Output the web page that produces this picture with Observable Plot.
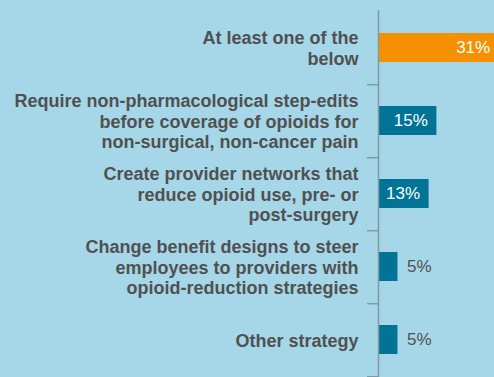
<!DOCTYPE html>
<html>
<head>
<meta charset="utf-8">
<script src="https://cdn.jsdelivr.net/npm/d3@7"></script>
<script src="https://cdn.jsdelivr.net/npm/@observablehq/plot@0.6"></script>
<style>
  html, body { margin: 0; padding: 0; background: #a6d7e8; overflow: hidden; }
</style>
</head>
<body>
<div id="chart"></div>
<script>
const categories = [
  "At least one of the\nbelow",
  "Require non-pharmacological step-edits\nbefore coverage of opioids for\nnon-surgical, non-cancer pain",
  "Create provider networks that\nreduce opioid use, pre- or\npost-surgery",
  "Change benefit designs to steer\nemployees to providers with\nopioid-reduction strategies",
  "Other strategy"
];
const values = [31, 15, 13, 5, 5];
const valueLabels = ["31%", "15%", "13%", "5%", "5%"];
const groups = ["highlight", "other", "other", "other", "other"];

const rows = categories.map((c, i) => ({category: c, value: values[i], label: valueLabels[i], group: groups[i]}));
const inside = rows.filter(d => d.value >= 10);
const outside = rows.filter(d => d.value < 10);

const bg = "#a6d7e8";
const orange = "#f59100";
const teal = "#007397";
const gray = "#8299a2";

const chart = Plot.plot({
  width: 494,
  height: 377,
  marginLeft: 378,
  marginRight: 0,
  marginTop: 10,
  marginBottom: 0,
  style: {background: bg, fontFamily: "'Liberation Sans', Arial, Helvetica, sans-serif", overflow: "hidden"},
  x: {domain: [0, 29.8], axis: null},
  y: {domain: categories, paddingInner: 0.6, paddingOuter: 0.3, axis: null},
  color: {domain: ["highlight", "other"], range: [orange, teal]},
  marks: [
    Plot.barX(rows, {x: "value", y: "category", fill: "group"}),
    Plot.ruleX([0], {stroke: gray, strokeWidth: 1.5}),
    Plot.axisY({tickSize: 11, tickFormat: () => "", label: null, dy: 36.67, stroke: gray, strokeWidth: 1.5}),
    Plot.text(rows, {x: 0, y: "category", text: "category", textAnchor: "end", dx: -20, lineAnchor: "middle", lineHeight: 1.15, fontSize: 18, fontWeight: "bold", fill: "#505050"}),
    Plot.text(inside, {x: "value", y: "category", text: "label", textAnchor: "end", dx: -9, fill: "white", fontSize: 17}),
    Plot.text(outside, {x: "value", y: "category", text: "label", textAnchor: "start", dx: 9, fill: "#505050", fontSize: 17})
  ]
});
document.getElementById("chart").appendChild(chart);
</script>
</body>
</html>
